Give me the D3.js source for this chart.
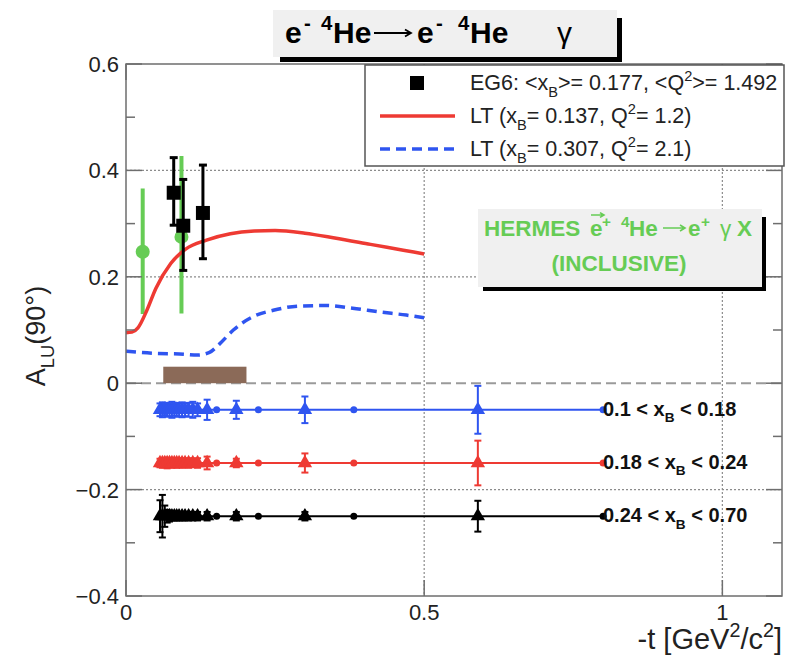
<!DOCTYPE html>
<html>
<head>
<meta charset="utf-8">
<script src="https://cdn.jsdelivr.net/npm/d3@7"></script>
<style>
  html, body { margin: 0; padding: 0; background: #ffffff; }
  svg { display: block; font-family: "Liberation Sans", Arial, Helvetica, sans-serif; }
</style>
</head>
<body>
<svg id="chart" width="788" height="668"></svg>
<script>
// ---- axis ticks ----
const xTickValues = [0, 0.5, 1];
const xTickLabels = ["0", "0.5", "1"];
const yTickValues = [0.6, 0.4, 0.2, 0, -0.2, -0.4];
const yTickLabels = ["0.6", "0.4", "0.2", "0", "\u22120.2", "\u22120.4"];
const yMinorValues = [0.5, 0.3, 0.1, -0.1, -0.3];

// ---- EG6 coherent DVCS on 4He ----
const eg6T = [0.080, 0.096, 0.129];
const eg6A = [0.358, 0.296, 0.320];
const eg6ErrUp = [0.066, 0.087, 0.090];
const eg6ErrDown = [0.061, 0.084, 0.086];

// ---- HERMES inclusive ----
const hermesT = [0.028, 0.093];
const hermesA = [0.247, 0.275];
const hermesErrUp = [0.119, 0.152];
const hermesErrDown = [0.117, 0.144];

// ---- LT model curves ----
const ltLowT = [0, 0.01, 0.02, 0.035, 0.05, 0.075, 0.1, 0.135, 0.175, 0.215, 0.25, 0.3, 0.35, 0.41, 0.465, 0.5];
const ltLowA = [0.095, 0.096, 0.104, 0.137, 0.178, 0.225, 0.252, 0.269, 0.281, 0.286, 0.287, 0.282, 0.273, 0.261, 0.250, 0.243];
const ltHighT = [0, 0.05, 0.09, 0.12, 0.14, 0.157, 0.18, 0.213, 0.247, 0.29, 0.335, 0.38, 0.425, 0.47, 0.5];
const ltHighA = [0.060, 0.056, 0.055, 0.053, 0.058, 0.074, 0.100, 0.125, 0.137, 0.145, 0.146, 0.141, 0.134, 0.128, 0.123];

// ---- systematic band ----
const systT = [0.0625, 0.202];
const systA = [0, 0.031];

// ---- -t distributions of the three x_B bins ----
const binT = [0.057, 0.061, 0.065, 0.069, 0.073, 0.077, 0.081, 0.085, 0.089, 0.094, 0.099, 0.105, 0.112, 0.120, 0.136, 0.185, 0.300, 0.590];
const binEdgeT = [0.152, 0.222, 0.382, 0.800];
const binLineStart = 0.055;
const bandNames = ["blue", "red", "black"];
const bandLevel = [-0.05, -0.15, -0.25];
const bandErr = [
  [0.012, 0.014, 0.010, 0.013, 0.012, 0.015, 0.011, 0.013, 0.012, 0.014, 0.012, 0.013, 0.015, 0.012, 0.019, 0.017, 0.025, 0.045],
  [0.008, 0.009, 0.008, 0.010, 0.008, 0.009, 0.008, 0.009, 0.008, 0.009, 0.008, 0.009, 0.008, 0.009, 0.012, 0.008, 0.018, 0.042],
  [0.030, 0.040, 0.020, 0.012, 0.010, 0.008, 0.008, 0.008, 0.008, 0.008, 0.008, 0.008, 0.008, 0.008, 0.008, 0.008, 0.008, 0.029]
];
const bandLabelLo = ["0.1", "0.18", "0.24"];
const bandLabelHi = ["0.18", "0.24", "0.70"];

// ---- text ----
const legendEG6 = [{t: "EG6: <x"}, {t: "B", sub: true}, {t: ">= 0.177, <Q"}, {t: "2", sup: true}, {t: ">= 1.492"}];
const legendLow = [{t: "LT (x"}, {t: "B", sub: true}, {t: "= 0.137, Q"}, {t: "2", sup: true}, {t: "= 1.2)"}];
const legendHigh = [{t: "LT (x"}, {t: "B", sub: true}, {t: "= 0.307, Q"}, {t: "2", sup: true}, {t: "= 2.1)"}];

// ---- colours ----
const colRed = "#ee3a33";
const colBlue = "#2f55f0";
const colGreen = "#66cc55";
const colBlack = "#000000";
const colBrown = "#8b6a58";
const bandColor = {blue: colBlue, red: colRed, black: colBlack};

const svg = d3.select("#chart");
const frameL = 126, frameR = 782, frameT = 64, frameB = 596;
const x = d3.scaleLinear().domain([0, 1.1]).range([frameL, frameR]);
const y = d3.scaleLinear().domain([-0.4, 0.6]).range([frameB, frameT]);

// rich text with sub/superscripts
function rich(textSel, parts, size) {
  let off = 0;
  parts.forEach(p => {
    const target = p.sup ? -0.42 * size : p.sub ? 0.32 * size : 0;
    const ts = textSel.append("tspan").text(p.t).attr("dy", target - off);
    if (p.sup || p.sub) ts.attr("font-size", size * 0.68);
    if (p.weight) ts.attr("font-weight", p.weight);
    off = target;
  });
  return textSel;
}

// text pieces placed one by one (TLatex-like spacing)
function pieces(g, list, baseline, size, weight, fill) {
  list.forEach(p => {
    g.append("text").attr("x", p.x).attr("y", baseline - (p.sup ? 0.42 * size : 0))
      .attr("font-size", p.sup ? size * 0.68 : size)
      .attr("font-weight", p.weight || weight).attr("fill", fill).text(p.t);
  });
}
function arrow(g, x1, x2, yy, head, color, width) {
  g.append("path")
    .attr("d", `M${x1},${yy}H${x2}M${x2 - head},${yy - head * 0.6}L${x2},${yy}L${x2 - head},${yy + head * 0.6}`)
    .attr("fill", "none").attr("stroke", color).attr("stroke-width", width);
}

// ---- grid ----
const grid = svg.append("g");
[0.4, 0.2, -0.2].forEach(v => {
  grid.append("line").attr("x1", frameL).attr("x2", frameR).attr("y1", y(v)).attr("y2", y(v))
    .attr("stroke", "#8c8c8c").attr("stroke-width", 1.2).attr("stroke-dasharray", "2,2");
});
[0.5, 1].forEach(v => {
  grid.append("line").attr("x1", x(v)).attr("x2", x(v)).attr("y1", frameT).attr("y2", frameB)
    .attr("stroke", "#8c8c8c").attr("stroke-width", 1.2).attr("stroke-dasharray", "2,2");
});
grid.append("line").attr("x1", frameL).attr("x2", frameR).attr("y1", y(0)).attr("y2", y(0))
  .attr("stroke", "#9a9a9a").attr("stroke-width", 2).attr("stroke-dasharray", "10,5");

// ---- systematic band ----
svg.append("rect")
  .attr("x", x(systT[0])).attr("width", x(systT[1]) - x(systT[0]))
  .attr("y", y(systA[1])).attr("height", y(systA[0]) - y(systA[1]))
  .attr("fill", colBrown);

// ---- x_B bins ----
const tri = d3.symbol().type(d3.symbolTriangle).size(90);
bandNames.forEach((name, bi) => {
  const g = svg.append("g");
  const c = bandColor[name];
  const lvl = bandLevel[bi];
  g.append("line").attr("x1", x(binLineStart)).attr("x2", x(binEdgeT[binEdgeT.length - 1]))
    .attr("y1", y(lvl)).attr("y2", y(lvl)).attr("stroke", c).attr("stroke-width", 2);
  binEdgeT.forEach(t => {
    g.append("circle").attr("cx", x(t)).attr("cy", y(lvl)).attr("r", 3.5).attr("fill", c);
  });
  binT.forEach((t, i) => {
    const e = bandErr[bi][i];
    const cx = x(t);
    g.append("line").attr("x1", cx).attr("x2", cx).attr("y1", y(lvl + e)).attr("y2", y(lvl - e))
      .attr("stroke", c).attr("stroke-width", 2);
    [lvl + e, lvl - e].forEach(v => {
      g.append("line").attr("x1", cx - 3.5).attr("x2", cx + 3.5).attr("y1", y(v)).attr("y2", y(v))
        .attr("stroke", c).attr("stroke-width", 2);
    });
    g.append("path").attr("d", tri).attr("transform", `translate(${cx},${y(lvl)})`).attr("fill", c);
  });
  const lab = g.append("text").attr("x", 603).attr("y", y(lvl) + 6)
    .attr("font-size", 20).attr("font-weight", "bold").attr("fill", "#111");
  rich(lab, [{t: bandLabelLo[bi] + " < x"}, {t: "B", sub: true}, {t: " < " + bandLabelHi[bi]}], 20);
});

// ---- HERMES points ----
hermesT.forEach((t, i) => {
  svg.append("line").attr("x1", x(t)).attr("x2", x(t))
    .attr("y1", y(hermesA[i] + hermesErrUp[i])).attr("y2", y(hermesA[i] - hermesErrDown[i]))
    .attr("stroke", colGreen).attr("stroke-width", 4);
  svg.append("circle").attr("cx", x(t)).attr("cy", y(hermesA[i])).attr("r", 7).attr("fill", colGreen);
});

// ---- LT curves ----
const line = d3.line().x(d => x(d[0])).y(d => y(d[1])).curve(d3.curveMonotoneX);
svg.append("path").datum(ltLowT.map((t, i) => [t, ltLowA[i]])).attr("d", line)
  .attr("fill", "none").attr("stroke", colRed).attr("stroke-width", 3.5);
svg.append("path").datum(ltHighT.map((t, i) => [t, ltHighA[i]])).attr("d", line)
  .attr("fill", "none").attr("stroke", colBlue).attr("stroke-width", 3.5).attr("stroke-dasharray", "10,6");

// ---- EG6 points ----
eg6T.forEach((t, i) => {
  const cx = x(t);
  const hi = y(eg6A[i] + eg6ErrUp[i]), lo = y(eg6A[i] - eg6ErrDown[i]);
  svg.append("line").attr("x1", cx).attr("x2", cx).attr("y1", hi).attr("y2", lo)
    .attr("stroke", colBlack).attr("stroke-width", 3);
  [hi, lo].forEach(v => svg.append("line").attr("x1", cx - 4).attr("x2", cx + 4).attr("y1", v).attr("y2", v)
    .attr("stroke", colBlack).attr("stroke-width", 3));
  svg.append("rect").attr("x", cx - 7).attr("y", y(eg6A[i]) - 7).attr("width", 14).attr("height", 14).attr("fill", colBlack);
});

// ---- frame and ticks ----
const frameCol = "#6e6e6e";
svg.append("rect").attr("x", frameL).attr("y", frameT).attr("width", frameR - frameL).attr("height", frameB - frameT)
  .attr("fill", "none").attr("stroke", frameCol).attr("stroke-width", 1.5);
const ticks = svg.append("g").attr("stroke", frameCol).attr("stroke-width", 1.5);
yTickValues.forEach(v => {
  ticks.append("line").attr("x1", frameL).attr("x2", frameL + 16).attr("y1", y(v)).attr("y2", y(v));
  ticks.append("line").attr("x1", frameR).attr("x2", frameR - 16).attr("y1", y(v)).attr("y2", y(v));
});
yMinorValues.forEach(v => {
  ticks.append("line").attr("x1", frameL).attr("x2", frameL + 9).attr("y1", y(v)).attr("y2", y(v));
  ticks.append("line").attr("x1", frameR).attr("x2", frameR - 9).attr("y1", y(v)).attr("y2", y(v));
});
xTickValues.forEach(v => {
  ticks.append("line").attr("x1", x(v)).attr("x2", x(v)).attr("y1", frameB).attr("y2", frameB - 16);
  ticks.append("line").attr("x1", x(v)).attr("x2", x(v)).attr("y1", frameT).attr("y2", frameT + 16);
});

// tick labels
yTickValues.forEach((v, i) => {
  svg.append("text").attr("x", 119).attr("y", y(v) + 8).attr("text-anchor", "end")
    .attr("font-size", 22).attr("fill", "#222").text(yTickLabels[i]);
});
xTickValues.forEach((v, i) => {
  svg.append("text").attr("x", x(v)).attr("y", 620).attr("text-anchor", "middle")
    .attr("font-size", 22).attr("fill", "#222").text(xTickLabels[i]);
});

// axis titles
rich(svg.append("text").attr("x", 782).attr("y", 649).attr("text-anchor", "end")
  .attr("font-size", 29).attr("fill", "#222"),
  [{t: "-t [GeV"}, {t: "2", sup: true}, {t: "/c"}, {t: "2", sup: true}, {t: "]"}], 29);
rich(svg.append("text").attr("transform", "translate(45,336) rotate(-90)").attr("text-anchor", "middle")
  .attr("font-size", 27).attr("fill", "#222"),
  [{t: "A"}, {t: "LU", sub: true}, {t: "(90\u00B0)"}], 27);

// ---- legend ----
const lg = svg.append("g");
lg.append("rect").attr("x", 365).attr("y", 65).attr("width", 419).attr("height", 101)
  .attr("fill", "#ffffff").attr("stroke", "#555").attr("stroke-width", 1.5);
lg.append("rect").attr("x", 410).attr("y", 76).attr("width", 14).attr("height", 14).attr("fill", colBlack);
lg.append("line").attr("x1", 380).attr("x2", 455).attr("y1", 116).attr("y2", 116)
  .attr("stroke", colRed).attr("stroke-width", 3.5);
lg.append("line").attr("x1", 380).attr("x2", 455).attr("y1", 149).attr("y2", 149)
  .attr("stroke", colBlue).attr("stroke-width", 3.5).attr("stroke-dasharray", "10,6");
[legendEG6, legendLow, legendHigh].forEach((parts, i) => {
  rich(lg.append("text").attr("x", 470).attr("y", 90 + i * 33).attr("font-size", 21.5).attr("fill", "#222"), parts, 21.5);
});

// ---- HERMES box ----
const hb = svg.append("g");
hb.append("rect").attr("x", 483).attr("y", 217).attr("width", 283).attr("height", 74).attr("fill", "#000");
hb.append("rect").attr("x", 478).attr("y", 209).attr("width", 284).attr("height", 78).attr("fill", "#f0f0f0");
pieces(hb, [
  {t: "HERMES", x: 484}, {t: "e", x: 590}, {t: "+", x: 602, sup: true},
  {t: "4", x: 621, sup: true}, {t: "He", x: 629}, {t: "e", x: 688}, {t: "+", x: 701, sup: true},
  {t: "\u03B3", x: 720, weight: "normal"}, {t: "X", x: 737}
], 236, 22.5, "bold", colGreen);
arrow(hb, 591, 604, 215, 4, colGreen, 1.6);
arrow(hb, 663, 685, 228, 5, colGreen, 1.6);
hb.append("text").attr("x", 619).attr("y", 271).attr("text-anchor", "middle")
  .attr("font-size", 22.5).attr("font-weight", "bold").attr("fill", colGreen).text("(INCLUSIVE)");

// ---- title ----
const tb = svg.append("g");
tb.append("rect").attr("x", 280).attr("y", 18).attr("width", 342).attr("height", 44).attr("fill", "#000");
tb.append("rect").attr("x", 273).attr("y", 10).attr("width", 344).attr("height", 47).attr("fill", "#f0f0f0");
pieces(tb, [
  {t: "e", x: 285}, {t: "-", x: 304, sup: true}, {t: "4", x: 321, sup: true}, {t: "He", x: 333},
  {t: "e", x: 417}, {t: "-", x: 436, sup: true}, {t: "4", x: 458, sup: true}, {t: "He", x: 470},
  {t: "\u03B3", x: 557, weight: "normal"}
], 43, 30, "bold", "#000");
arrow(tb, 374, 411, 33, 6, "#000", 1.8);
</script>
</body>
</html>
